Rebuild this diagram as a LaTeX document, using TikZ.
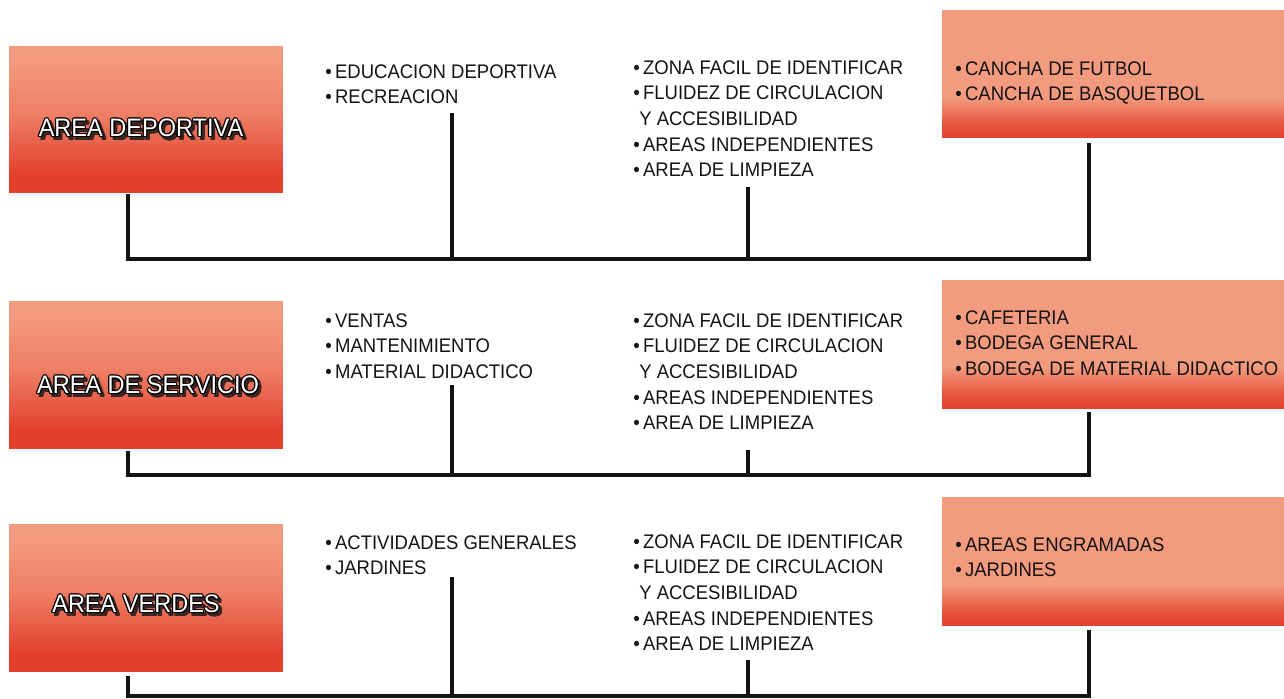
\documentclass[tikz,border=0pt]{standalone}
\usepackage{fontspec}
\setmainfont{Liberation Sans}[FakeStretch=0.94]
\newfontfamily\titlefont{Liberation Sans}[FakeStretch=0.93]
\usepackage{contour}
\contourlength{0.65pt}
\contournumber{12}
\definecolor{ink}{HTML}{161212}
\definecolor{salmon}{HTML}{F29B7E}
\definecolor{boxmid}{HTML}{EE7F66}
\definecolor{boxred}{HTML}{E2402D}
\definecolor{boxlow}{HTML}{E7533D}
\definecolor{shadowc}{HTML}{3B2522}
\pgfdeclareverticalshading{leftfill}{100bp}{color(0bp)=(boxred); color(25bp)=(boxred); color(31bp)=(boxred); color(52bp)=(boxmid); color(71bp)=(salmon); color(100bp)=(salmon)}
\pgfdeclareverticalshading{rightfill}{100bp}{color(0bp)=(boxred); color(25bp)=(boxred); color(30bp)=(boxlow); color(41bp)=(salmon); color(100bp)=(salmon)}
\newcommand{\arealabel}[1]{\rlap{\kern1.5pt\raisebox{-1.5pt}{\textcolor{shadowc}{\contour{shadowc}{#1}}}}\textcolor{white}{\contour{black}{#1}}}
\begin{document}
\begin{tikzpicture}[x=0.02cm, y=-0.02cm,
    leftbox/.style={shading=leftfill, minimum width=5.48cm, minimum height=2.94cm, inner sep=0},
    rightbox/.style={shading=rightfill, minimum width=6.84cm, minimum height=2.56cm, inner sep=0},
    arealbl/.style={font=\titlefont\fontsize{14.4}{17}\selectfont, inner sep=0},
    items/.style={anchor=north west, align=left, inner sep=0, text=ink, font=\fontsize{11.2}{14.6}\selectfont},
    bus/.style={line width=2.2pt, draw=ink}]
        \useasboundingbox (0,0) rectangle (1284,698);
        \node[leftbox] (dep) at (146,119.5) {};
        \node[leftbox] (ser) at (146,374.5) {};
        \node[leftbox] (ver) at (146,598) {};
        \node[rightbox] (depr) at (1113,74) {};
        \node[rightbox] (serr) at (1113,344) {};
        \node[rightbox] (verr) at (1113,561) {};
        \node[arealbl] (dep-t) at (141,130) {\arealabel{AREA DEPORTIVA}};
        \node[arealbl] (ser-t) at (148,387) {\arealabel{AREA DE SERVICIO}};
        \node[arealbl] (ver-t) at (136,606) {\arealabel{AREA VERDES}};
        \node[items] (dep-a) at (325,64) {•\,EDUCACION DEPORTIVA\\•\,RECREACION};
        \node[items] (dep-b) at (633,60) {•\,ZONA FACIL DE IDENTIFICAR\\•\,FLUIDEZ DE CIRCULACION\\\hspace*{3.4pt}Y ACCESIBILIDAD\\•\,AREAS INDEPENDIENTES\\•\,AREA DE LIMPIEZA};
        \node[items] (dep-c) at (955,61) {•\,CANCHA DE FUTBOL\\•\,CANCHA DE BASQUETBOL};
        \node[items] (ser-a) at (325,313) {•\,VENTAS\\•\,MANTENIMIENTO\\•\,MATERIAL DIDACTICO};
        \node[items] (ser-b) at (633,313) {•\,ZONA FACIL DE IDENTIFICAR\\•\,FLUIDEZ DE CIRCULACION\\\hspace*{3.4pt}Y ACCESIBILIDAD\\•\,AREAS INDEPENDIENTES\\•\,AREA DE LIMPIEZA};
        \node[items] (ser-c) at (955,310) {•\,CAFETERIA\\•\,BODEGA GENERAL\\•\,BODEGA DE MATERIAL DIDACTICO};
        \node[items] (ver-a) at (325,535) {•\,ACTIVIDADES GENERALES\\•\,JARDINES};
        \node[items] (ver-b) at (633,534) {•\,ZONA FACIL DE IDENTIFICAR\\•\,FLUIDEZ DE CIRCULACION\\\hspace*{3.4pt}Y ACCESIBILIDAD\\•\,AREAS INDEPENDIENTES\\•\,AREA DE LIMPIEZA};
        \node[items] (ver-c) at (955,537) {•\,AREAS ENGRAMADAS\\•\,JARDINES};
        \coordinate (b1a) at (128,259);
        \coordinate (b1b) at (452,259);
        \coordinate (b1c) at (748,259);
        \coordinate (b1d) at (1089,259);
        \coordinate (t1b) at (452,113);
        \coordinate (t1c) at (748,187);
        \coordinate (b2a) at (128,475);
        \coordinate (b2b) at (452,475);
        \coordinate (b2c) at (748,475);
        \coordinate (b2d) at (1089,475);
        \coordinate (t2b) at (452,385);
        \coordinate (t2c) at (748,450);
        \coordinate (b3a) at (128,696);
        \coordinate (b3b) at (452,696);
        \coordinate (b3c) at (748,696);
        \coordinate (b3d) at (1089,696);
        \coordinate (t3b) at (452,577);
        \coordinate (t3c) at (748,660);
        \draw[bus] ([yshift=-0.02cm]dep.south -| b1a) -- (b1a) -- (b1d) -- ([yshift=-0.1cm]depr.south -| b1d);
        \draw[bus] (t1b) -- (b1b);
        \draw[bus] (t1c) -- (b1c);
        \draw[bus] ([yshift=-0.06cm]ser.south -| b2a) -- (b2a) -- (b2d) -- ([yshift=-0.08cm]serr.south -| b2d);
        \draw[bus] (t2b) -- (b2b);
        \draw[bus] (t2c) -- (b2c);
        \draw[bus] ([yshift=-0.08cm]ver.south -| b3a) -- (b3a) -- (b3d) -- ([yshift=-0.1cm]verr.south -| b3d);
        \draw[bus] (t3b) -- (b3b);
        \draw[bus] (t3c) -- (b3c);
    \end{tikzpicture}
\end{document}
